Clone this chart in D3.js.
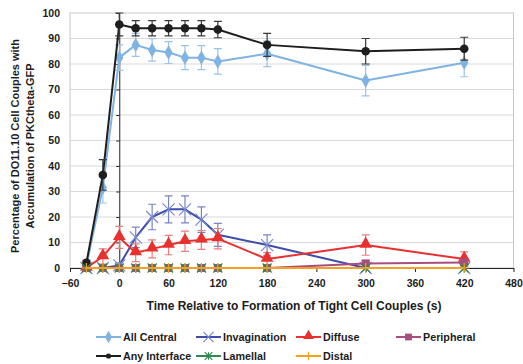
<!DOCTYPE html>
<html>
<head>
<meta charset="utf-8">
<script src="https://cdn.jsdelivr.net/npm/d3@7"></script>
<style>
  html, body { margin: 0; padding: 0; background: #fff; }
  svg { display: block; }
  text { font-family: "Liberation Sans", Arial, sans-serif; font-weight: bold; fill: #1c1c1c; }
</style>
</head>
<body>
<svg id="chart" width="523" height="364"></svg>
<script>
// Sampling times (s) relative to formation of tight cell couples
const times = [-40, -20, 0, 20, 40, 60, 80, 100, 120, 180, 300, 420];

// Percentages and standard errors per accumulation pattern
const allCentral      = [1, 31.5, 82.5, 87.5, 85.5, 84.5, 82.5, 82.5, 81, 84, 73.5, 80.5];
const allCentralErr   = [0, 6, 5, 4.5, 4.4, 4.3, 4.7, 4.7, 5, 5, 6, 5.5];
const invagination    = [0, 0, 1, 12, 20, 23, 23, 19, 13, 9, 0, 0];
const invaginationErr = [0, 0, 1, 4, 5, 5.3, 5.3, 5, 4.5, 4, 0, 0];
const diffuse         = [0, 4.5, 12, 6, 7.5, 9, 10.5, 11, 11.5, 3.5, 9, 3.5];
const diffuseErr      = [0, 3, 4.3, 3.5, 3.5, 3.8, 4, 3.7, 4, 2.5, 4, 2.8];
const peripheral      = [0, 0, 0, 0, 0, 0, 0, 0, 0, 0, 1.8, 2.2];
const peripheralErr   = [0, 0, 0, 0, 0, 0, 0, 0, 0, 0, 1, 1];
const anyInterface    = [2, 36.5, 95.5, 94, 94, 94, 94, 94, 93.5, 87.5, 85, 86];
const anyInterfaceErr = [1, 6, 4.5, 3, 3, 3, 3, 3, 3.2, 4.5, 5, 4.5];
const lamellal        = [0, 0, 0, 0, 0, 0, 0, 0, 0, 0, 0, 0];
const distal          = [0, 0, 0, 0, 0, 0, 0, 0, 0, 0, 0, 0];

const xTicks = [-60, 0, 60, 120, 180, 240, 300, 360, 420, 480];
const yTicks = [0, 10, 20, 30, 40, 50, 60, 70, 80, 90, 100];

const series = [
  { name: "All Central",   values: allCentral,   err: allCentralErr,   color: "#7EB3E3", errColor: "#9CC4EA", marker: "diamond" },
  { name: "Invagination",  values: invagination, err: invaginationErr, color: "#3D4EAA", errColor: "#7884C8", marker: "x" },
  { name: "Diffuse",       values: diffuse,      err: diffuseErr,      color: "#E8312E", errColor: "#EE7C7C", marker: "triangle" },
  { name: "Peripheral",    values: peripheral,   err: peripheralErr,   color: "#A84E7E", errColor: "#C07C9F", marker: "square" },
  { name: "Any Interface", values: anyInterface, err: anyInterfaceErr, color: "#1E1E1E", errColor: "#3A3A3A", marker: "circle" },
  { name: "Lamellal",      values: lamellal,     err: null,            color: "#2E8B4E", errColor: "#2E8B4E", marker: "asterisk" },
  { name: "Distal",        values: distal,       err: null,            color: "#F5A020", errColor: "#F5A020", marker: "plus" }
];

const svg = d3.select("#chart");
const x = d3.scaleLinear().domain([-60, 480]).range([70, 513.5]);
const y = d3.scaleLinear().domain([0, 100]).range([268, 13]);

// Horizontal gridlines
svg.append("g").selectAll("line").data(yTicks.filter(d => d > 0 && d < 100)).join("line")
  .attr("x1", x(-60)).attr("x2", x(480))
  .attr("y1", d => y(d)).attr("y2", d => y(d))
  .attr("stroke", "#D9D9D9").attr("stroke-width", 1);

// Plot area frame
svg.append("rect")
  .attr("x", x(-60)).attr("y", y(100))
  .attr("width", x(480) - x(-60)).attr("height", y(0) - y(100))
  .attr("fill", "none").attr("stroke", "#C8C8C8").attr("stroke-width", 1);

// Y tick labels along the left edge
const yLabels = svg.append("g").attr("transform", `translate(${x(-60)},0)`)
  .call(d3.axisLeft(y).tickValues(yTicks).tickSize(0).tickPadding(10).tickFormat(d3.format("d")));
yLabels.select(".domain").remove();
yLabels.selectAll("text").attr("font-size", 10.5).attr("font-family", "Liberation Sans, Arial, sans-serif").attr("font-weight", "bold").attr("fill", "#1c1c1c");

// Vertical axis crossing at time 0
const yAxis = svg.append("g").attr("transform", `translate(${x(0)},0)`)
  .call(d3.axisLeft(y).tickValues(yTicks).tickSize(3).tickSizeOuter(0).tickFormat(""));
yAxis.select(".domain").attr("stroke", "#222");
yAxis.selectAll(".tick line").attr("stroke", "#222");

// Time axis
const xAxis = svg.append("g").attr("transform", `translate(0,${y(0)})`)
  .call(d3.axisBottom(x).tickValues(xTicks).tickSize(4).tickSizeOuter(0).tickPadding(8).tickFormat(d3.format("d")));
xAxis.select(".domain").attr("stroke", "#222");
xAxis.selectAll(".tick line").attr("stroke", "#222");
xAxis.selectAll("text").attr("font-size", 10.5).attr("font-family", "Liberation Sans, Arial, sans-serif").attr("font-weight", "bold").attr("fill", "#1c1c1c");

// Marker shapes
function drawMarker(g, kind, color, cx, cy, scale) {
  const s = scale || 1;
  if (kind === "diamond") {
    g.append("path").attr("d", d3.symbol(d3.symbolDiamond, 60 * s * s)()).attr("transform", `translate(${cx},${cy})`).attr("fill", color);
  } else if (kind === "circle") {
    g.append("circle").attr("cx", cx).attr("cy", cy).attr("r", 4.3 * s).attr("fill", color);
  } else if (kind === "triangle") {
    g.append("path").attr("d", d3.symbol(d3.symbolTriangle, 70 * s * s)()).attr("transform", `translate(${cx},${cy - 1})`).attr("fill", color);
  } else if (kind === "square") {
    const h = 4 * s;
    g.append("rect").attr("x", cx - h).attr("y", cy - h).attr("width", 2 * h).attr("height", 2 * h).attr("fill", color);
  } else if (kind === "x") {
    const h = 6 * s;
    g.append("path").attr("d", `M${cx - h},${cy - h}L${cx + h},${cy + h}M${cx - h},${cy + h}L${cx + h},${cy - h}`)
      .attr("stroke", "#7A88D0").attr("stroke-width", 1.2).attr("fill", "none");
  } else if (kind === "asterisk") {
    const h = 4.5 * s;
    g.append("path").attr("d", `M${cx - h},${cy - h}L${cx + h},${cy + h}M${cx - h},${cy + h}L${cx + h},${cy - h}M${cx},${cy - h}L${cx},${cy + h}`)
      .attr("stroke", color).attr("stroke-width", 1.2).attr("fill", "none");
  } else if (kind === "plus") {
    const h = 5 * s;
    g.append("path").attr("d", `M${cx - h},${cy}L${cx + h},${cy}M${cx},${cy - h}L${cx},${cy + h}`)
      .attr("stroke", color).attr("stroke-width", 1.2).attr("fill", "none");
  }
}

const line = d3.line().x(d => x(d[0])).y(d => y(d[1]));

series.forEach(s => {
  const g = svg.append("g");
  const pts = times.map((t, i) => [t, s.values[i], s.err ? s.err[i] : 0]);
  g.append("path").datum(pts).attr("d", line)
    .attr("fill", "none").attr("stroke", s.color).attr("stroke-width", 2).attr("stroke-linejoin", "round");
  // Error bars with caps
  pts.filter(p => p[2] > 0).forEach(p => {
    const cx = x(p[0]), top = y(p[1] + p[2]), bot = y(Math.max(0, p[1] - p[2]));
    g.append("path")
      .attr("d", `M${cx},${top}L${cx},${bot}M${cx - 4},${top}L${cx + 4},${top}M${cx - 4},${bot}L${cx + 4},${bot}`)
      .attr("stroke", s.errColor).attr("stroke-width", 1.2).attr("fill", "none");
  });
  pts.forEach(p => drawMarker(g, s.marker, s.color, x(p[0]), y(p[1])));
});

// Axis titles
svg.append("text").attr("x", 294).attr("y", 310).attr("text-anchor", "middle")
  .attr("font-size", 12).text("Time Relative to Formation of Tight Cell Couples (s)");

const yTitle = svg.append("text").attr("transform", "translate(19,146) rotate(-90)")
  .attr("text-anchor", "middle").attr("font-size", 11);
yTitle.append("tspan").attr("x", 0).attr("dy", 0).text("Percentage of DO11.10 Cell Couples with");
yTitle.append("tspan").attr("x", 0).attr("dy", 14.5).text("Accumulation of PKCtheta-GFP");

// Legend: four columns, filled row by row
const legCols = [96, 196, 296, 396];
const legRows = [337, 356];
series.forEach((s, i) => {
  const lx = legCols[i % 4], ly = legRows[Math.floor(i / 4)];
  const g = svg.append("g");
  g.append("line").attr("x1", lx).attr("x2", lx + 25).attr("y1", ly).attr("y2", ly)
    .attr("stroke", s.color).attr("stroke-width", 2);
  drawMarker(g, s.marker, s.color, lx + 12.5, ly, s.marker === "circle" ? 0.6 : 0.85);
  g.append("text").attr("x", lx + 27).attr("y", ly + 4).attr("font-size", 10.75).text(s.name);
});
</script>
</body>
</html>
